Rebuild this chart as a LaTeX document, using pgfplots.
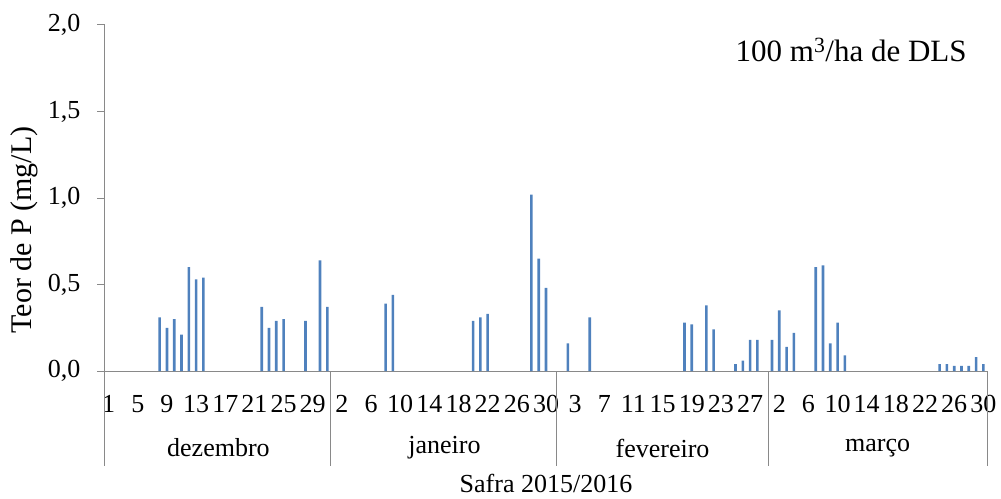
\documentclass[border=0pt]{standalone}
\usepackage{pgfplots}
\pgfplotsset{compat=1.18}
\usepackage{fontspec}
\setmainfont{Liberation Serif}
\definecolor{barblue}{HTML}{4F81BD}
\definecolor{axgray}{HTML}{898989}
\begin{document}
\begin{tikzpicture}
\path[use as bounding box] (-105pt,-127pt) rectangle (896pt,371pt);
\begin{axis}[
  scale only axis,
  width=882pt, height=346pt,
  xmin=-0.5, xmax=120.5,
  ymin=0, ymax=2,
  axis x line*=bottom,
  axis y line*=left,
  axis line style={axgray, line width=1pt},
  clip=false,
  ytick={0,0.5,1,1.5,2},
  /pgf/number format/fixed,
  /pgf/number format/fixed zerofill,
  /pgf/number format/precision=1,
  /pgf/number format/use comma,
  /pgf/number format/assume math mode=true,
  y tick label style={font=\rmfamily\fontsize{26}{30}\selectfont, xshift=-13pt},
  ytick style={axgray, line width=1pt},
  tick align=outside,
  major tick length=8pt,
  xtick={0,4,...,120},
  xticklabels={1,5,9,13,17,21,25,29,2,6,10,14,18,22,26,30,3,7,11,15,19,23,27,2,6,10,14,18,22,26,30},
  x tick label style={font=\rmfamily\fontsize{26}{30}\selectfont, anchor=center, yshift=-25pt},
  xtick style={draw=none},
  ylabel={Teor de P (mg/L)},
  ylabel style={font=\rmfamily\fontsize{30}{34}\selectfont, at={(axis description cs:-0.092,0.4075)}, anchor=center},
  xlabel={Safra 2015/2016},
  xlabel style={font=\rmfamily\fontsize{26}{30}\selectfont, at={(axis description cs:0.5,-0.350)}, anchor=base},
]
\addplot[ybar, bar width=2.6pt, fill=barblue, draw=none] coordinates {
(7,0.31) (8,0.25) (9,0.30) (10,0.21) (11,0.60) (12,0.53) (13,0.54)
(21,0.37) (22,0.25) (23,0.29) (24,0.30) (27,0.29) (29,0.64) (30,0.37)
(38,0.39) (39,0.44) (50,0.29) (51,0.31) (52,0.33) (58,1.02) (59,0.65) (60,0.48)
(63,0.16) (66,0.31) (79,0.28) (80,0.27) (82,0.38) (83,0.24) (86,0.04) (87,0.06) (88,0.18) (89,0.18)
(91,0.18) (92,0.35) (93,0.14) (94,0.22) (97,0.60) (98,0.61) (99,0.16) (100,0.28) (101,0.09)
(114,0.04) (115,0.04) (116,0.03) (117,0.03) (118,0.03) (119,0.08) (120,0.04)
};
\draw[axgray, line width=1pt] (axis cs:-0.5,0) -- ++(0pt,-95pt);
\draw[axgray, line width=1pt] (axis cs:30.5,0) -- ++(0pt,-95pt);
\draw[axgray, line width=1pt] (axis cs:61.5,0) -- ++(0pt,-95pt);
\draw[axgray, line width=1pt] (axis cs:90.5,0) -- ++(0pt,-95pt);
\draw[axgray, line width=1pt] (axis cs:120.5,0) -- ++(0pt,-95pt);
\node[font=\rmfamily\fontsize{26}{30}\selectfont] at (axis description cs:0.1286,-0.2225) {dezembro};
\node[font=\rmfamily\fontsize{26}{30}\selectfont] at (axis description cs:0.3849,-0.2225) {janeiro};
\node[font=\rmfamily\fontsize{26}{30}\selectfont] at (axis description cs:0.6321,-0.2225) {fevereiro};
\node[font=\rmfamily\fontsize{26}{30}\selectfont] at (axis description cs:0.8759,-0.2225) {março};
\node[font=\rmfamily\fontsize{31}{36}\selectfont] at (axis description cs:0.846,0.928) {100 m\textsuperscript{3}/ha de DLS};
\end{axis}
\end{tikzpicture}
\end{document}
